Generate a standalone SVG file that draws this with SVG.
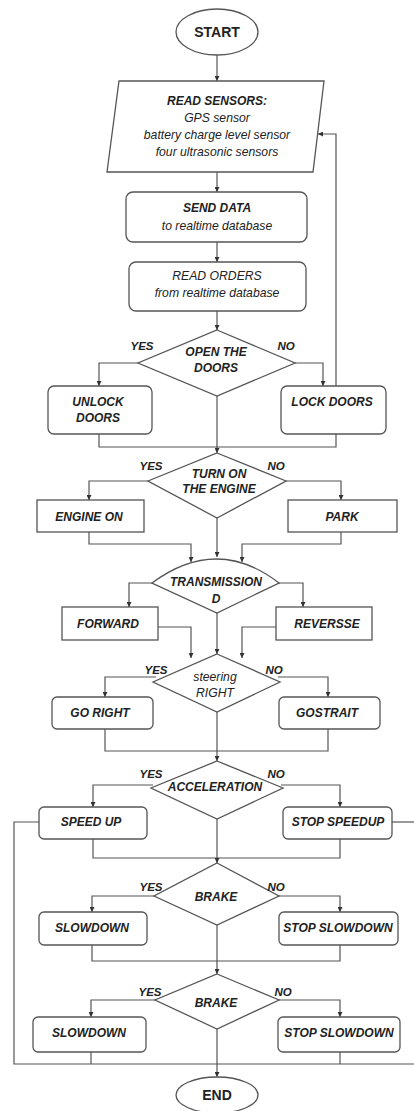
<svg xmlns="http://www.w3.org/2000/svg" width="414" height="1111" viewBox="0 0 414 1111">
<style>
.bg{fill:#fff}
.n{fill:#fff;stroke:#555;stroke-width:1.3}
.c{fill:none;stroke:#555;stroke-width:1.2}
.a{marker-end:url(#ah)}
text{font-family:"Liberation Sans",Arial,sans-serif;fill:#222;text-anchor:middle}
.t{font-size:12px;font-weight:bold;font-style:italic}
.s{font-size:12.2px;font-style:italic}
.e{font-size:14px;font-weight:bold}
.l{font-size:11.5px;font-weight:bold;font-style:italic}
</style>
<defs>
<marker id="ah" viewBox="0 0 10 10" refX="10" refY="5" markerWidth="5" markerHeight="5" orient="auto" markerUnits="userSpaceOnUse"><path d="M0,0 L10,5 L0,10 Z" fill="#333"/></marker>
</defs>
<rect class="bg" x="0" y="0" width="414" height="1111"/>

<g id="connectors">
<path class="c a" d="M217,55 V81"/>
<path class="c a" d="M217,172 V192"/>
<path class="c a" d="M217,242 V262"/>
<path class="c a" d="M217,311 V330"/>
<path class="c a" d="M138,363 H99 V386"/>
<path class="c a" d="M295,363 H323 V386"/>
<path class="c a" d="M336,386 V134 H318"/>
<path class="c" d="M99,434 V447 H336 V434"/>
<path class="c a" d="M217,396 V453"/>
<path class="c a" d="M148,481 H89 V500"/>
<path class="c a" d="M286,481 H341 V500"/>
<path class="c a" d="M89,532 V544 H191 V562"/>
<path class="c a" d="M341,532 V544 H242 V562"/>
<path class="c a" d="M217,518 V557"/>
<path class="c a" d="M152,583 H129 V607"/>
<path class="c a" d="M279,583 H303 V607"/>
<path class="c a" d="M158,627 H191 V658"/>
<path class="c a" d="M276,627 H242 V658"/>
<path class="c a" d="M217,613 V654"/>
<path class="c a" d="M156,677 H105 V697"/>
<path class="c a" d="M278,677 H328 V697"/>
<path class="c" d="M105,729 V751 H328 V729"/>
<path class="c a" d="M217,712 V761"/>
<path class="c a" d="M153,785 H93 V807"/>
<path class="c a" d="M281,785 H340 V807"/>
<path class="c" d="M93,839 V858 H340 V839"/>
<path class="c a" d="M217,819 V863"/>
<path class="c a" d="M156,896 H92 V912"/>
<path class="c a" d="M277,896 H340 V912"/>
<path class="c" d="M92,945 V961 H340 V945"/>
<path class="c a" d="M217,925 V974"/>
<path class="c a" d="M157,1000 H91 V1017"/>
<path class="c a" d="M277,1000 H340 V1017"/>
<path class="c" d="M39,822 H14 V1064 H414"/>
<path class="c" d="M392,822 H414"/>
<path class="c" d="M91,1052 V1064"/>
<path class="c" d="M340,1052 V1064"/>
<path class="c a" d="M217,1029 V1077"/>
</g>

<g id="start"><ellipse class="n" cx="217" cy="32" rx="41" ry="23"/><text class="e" x="217" y="37">START</text></g>

<g id="read-sensors"><path class="n" d="M119,81 H324 L313,172 H107 Z"/>
<text class="t" x="217" y="105">READ SENSORS:</text>
<text class="s" x="217" y="122">GPS sensor</text>
<text class="s" x="217" y="139">battery charge level sensor</text>
<text class="s" x="217" y="156">four ultrasonic sensors</text></g>

<g id="send-data"><rect class="n" x="126" y="192" width="181" height="50" rx="7"/>
<text class="t" x="217" y="212">SEND DATA</text>
<text class="s" x="217" y="230">to realtime database</text></g>

<g id="read-orders"><rect class="n" x="129" y="262" width="177" height="49" rx="7"/>
<text class="s" x="217" y="280">READ ORDERS</text>
<text class="s" x="217" y="297">from realtime database</text></g>

<g id="open-doors"><path class="n" d="M217,330 L295,363 L217,396 L138,363 Z"/>
<text class="t" x="216" y="356">OPEN THE</text>
<text class="t" x="216" y="372">DOORS</text>
<text class="l" x="142" y="350">YES</text>
<text class="l" x="286" y="350">NO</text></g>

<g id="unlock-doors"><rect class="n" x="48" y="386" width="104" height="48" rx="6"/>
<text class="t" x="98" y="406">UNLOCK</text>
<text class="t" x="98" y="422">DOORS</text></g>

<g id="lock-doors"><rect class="n" x="281" y="386" width="105" height="48" rx="6"/>
<text class="t" x="332" y="406">LOCK DOORS</text></g>

<g id="turn-on-engine"><path class="n" d="M217,453 L286,481 L217,518 L148,481 Z"/>
<text class="t" x="219" y="478">TURN ON</text>
<text class="t" x="219" y="493">THE ENGINE</text>
<text class="l" x="151" y="470">YES</text>
<text class="l" x="276" y="470">NO</text></g>

<g id="engine-on"><rect class="n" x="37" y="500" width="107" height="32"/>
<text class="t" x="89" y="521">ENGINE ON</text></g>

<g id="park"><rect class="n" x="288" y="500" width="109" height="32"/>
<text class="t" x="342" y="521">PARK</text></g>

<g id="transmission"><path class="n" d="M152,583 Q217,535 279,583 L217,613 Z"/>
<text class="t" x="216" y="586">TRANSMISSION</text>
<text class="t" x="216" y="603">D</text></g>

<g id="forward"><rect class="n" x="62" y="607" width="96" height="33"/>
<text class="t" x="108" y="628">FORWARD</text></g>

<g id="reversse"><rect class="n" x="276" y="607" width="96" height="33"/>
<text class="t" x="327" y="628">REVERSSE</text></g>

<g id="steering"><path class="n" d="M217,654 L280,682 L217,712 L153,682 Z"/>
<text class="s" x="215" y="681">steering</text>
<text class="s" x="215" y="697">RIGHT</text>
<text class="l" x="156" y="674">YES</text>
<text class="l" x="274" y="674">NO</text></g>

<g id="go-right"><rect class="n" x="52" y="697" width="101" height="32" rx="5"/>
<text class="t" x="100" y="717">GO RIGHT</text></g>

<g id="gostrait"><rect class="n" x="279" y="697" width="101" height="32" rx="5"/>
<text class="t" x="327" y="717">GOSTRAIT</text></g>

<g id="acceleration"><path class="n" d="M217,761 L283,788 L217,819 L151,788 Z"/>
<text class="t" x="215" y="791">ACCELERATION</text>
<text class="l" x="151" y="778">YES</text>
<text class="l" x="276" y="778">NO</text></g>

<g id="speed-up"><rect class="n" x="39" y="807" width="108" height="32" rx="5"/>
<text class="t" x="91" y="826">SPEED UP</text></g>

<g id="stop-speedup"><rect class="n" x="283" y="807" width="109" height="32" rx="5"/>
<text class="t" x="338" y="826">STOP SPEEDUP</text></g>

<g id="brake-1"><path class="n" d="M217,863 L279,896 L217,925 L154,896 Z"/>
<text class="t" x="216" y="901">BRAKE</text>
<text class="l" x="151" y="891">YES</text>
<text class="l" x="276" y="891">NO</text></g>

<g id="slowdown-1"><rect class="n" x="39" y="912" width="108" height="33" rx="5"/>
<text class="t" x="92" y="932">SLOWDOWN</text></g>

<g id="stop-slowdown-1"><rect class="n" x="279" y="912" width="119" height="33" rx="5"/>
<text class="t" x="338" y="932">STOP SLOWDOWN</text></g>

<g id="brake-2"><path class="n" d="M217,974 L279,1000 L217,1029 L155,1000 Z"/>
<text class="t" x="216" y="1007">BRAKE</text>
<text class="l" x="150" y="996">YES</text>
<text class="l" x="283" y="996">NO</text></g>

<g id="slowdown-2"><rect class="n" x="33" y="1017" width="113" height="35" rx="5"/>
<text class="t" x="89" y="1037">SLOWDOWN</text></g>

<g id="stop-slowdown-2"><rect class="n" x="278" y="1017" width="122" height="35" rx="5"/>
<text class="t" x="339" y="1037">STOP SLOWDOWN</text></g>

<g id="end"><ellipse class="n" cx="217" cy="1095" rx="41" ry="18"/><text class="e" x="217" y="1100">END</text></g>
</svg>
